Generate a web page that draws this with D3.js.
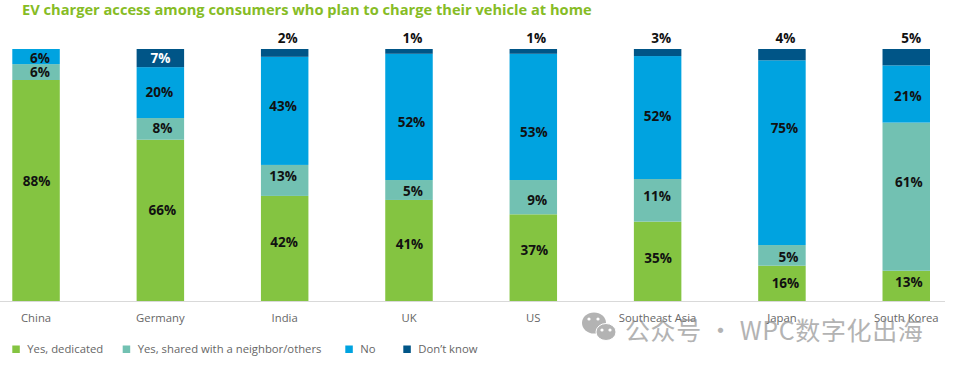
<!DOCTYPE html>
<html>
<head>
<meta charset="utf-8">
<script src="https://cdn.jsdelivr.net/npm/d3@7"></script>
<style>
  html, body { margin: 0; padding: 0; background: #fff; }
  svg { display: block; font-family: "Open Sans", sans-serif; }
</style>
</head>
<body>
<div id="chart"></div>
<script>
const categories = ["China", "Germany", "India", "UK", "US", "Southeast Asia", "Japan", "South Korea"];
const seriesNames = ["Yes, dedicated", "Yes, shared with a neighbor/others", "No", "Don\u2019t know"];

// drawn share of each bar (the printed labels do not quite match the drawn heights)
const dedicated = [87.7, 64, 41.7, 40.1, 34.4, 31.5, 14, 12];
const shared = [6.3, 8.6, 12.3, 7.9, 13.6, 16.9, 8.2, 58.8];
const no = [6, 20.2, 42.9, 50.1, 50.1, 48.8, 73.3, 22.7];
const dontKnow = [0, 7.2, 3.1, 1.9, 1.9, 2.8, 4.5, 6.5];

// printed labels
const dedicatedLabels = [88, 66, 42, 41, 37, 35, 16, 13];
const sharedLabels = [6, 8, 13, 5, 9, 11, 5, 61];
const noLabels = [6, 20, 43, 52, 53, 52, 75, 21];
const dontKnowLabels = [null, 7, 2, 1, 1, 3, 4, 5];

const colors = ["#84c441", "#72c1b2", "#00a3e0", "#005587"];

// the labels were placed by hand in the original: [dx, dy] from the segment centre
const labelNudge = [
  [[0.5, -9.5], [2, -10], [-0.5, -6.5], [0.5, -6.5], [1, -7.7], [0.5, -3.5], [3.5, 0], [2.5, -4]],
  [[4, 0], [2, -1], [-1.5, -4.5], [4, 1], [4, 3], [-0.5, -4], [6.5, 2], [2.5, -14]],
  [[4, 1.5], [-1, -0.5], [-1.5, -5], [2.5, 5], [0.5, 15], [0, -1], [2.5, -24], [1.5, 2.7]],
  [[0, 0], [0, 0], [3, -15], [3.5, -13.4], [3, -13.4], [3.5, -14.5], [3.5, -16.6], [5, -19.3]]
];

const width = 954;
const height = 366;

const svg = d3.select("#chart")
  .append("svg")
  .attr("width", width)
  .attr("height", height);

svg.append("text")
  .attr("x", 22)
  .attr("y", 15)
  .attr("fill", "#86bc25")
  .style("font-size", "14.65px")
  .style("font-weight", 700)
  .text("EV charger access among consumers who plan to charge their vehicle at home");

const x = d3.scaleBand()
  .domain(categories)
  .range([12.3, 930])
  .paddingInner(0.618)
  .paddingOuter(0);

const y = d3.scaleLinear().domain([0, 100]).range([301, 49]);

const table = categories.map((c, i) => ({
  category: c,
  [seriesNames[0]]: dedicated[i],
  [seriesNames[1]]: shared[i],
  [seriesNames[2]]: no[i],
  [seriesNames[3]]: dontKnow[i]
}));
const labels = [dedicatedLabels, sharedLabels, noLabels, dontKnowLabels];

const stack = d3.stack().keys(seriesNames)(table);

stack.forEach((s, k) => {
  const g = svg.append("g");

  g.append("g")
    .attr("fill", colors[k])
    .selectAll("rect")
    .data(s)
    .join("rect")
    .attr("x", d => x(d.data.category))
    .attr("y", d => y(d[1]))
    .attr("width", x.bandwidth())
    .attr("height", d => y(d[0]) - y(d[1]));

  g.append("g")
    .selectAll("text")
    .data(s)
    .join("text")
    .attr("x", (d, i) => x(d.data.category) + x.bandwidth() / 2 + labelNudge[k][i][0])
    .attr("y", (d, i) => (y(d[0]) + y(d[1])) / 2 + labelNudge[k][i][1])
    .attr("dy", "0.35em")
    .attr("text-anchor", "middle")
    .attr("fill", (d, i) => (k === 3 && i === 1 ? "#fff" : "#111"))
    .style("font-size", "13.5px")
    .style("font-weight", 700)
    .text((d, i) => (labels[k][i] === null ? "" : labels[k][i] + "%"));
});

// category axis, no ticks
const axis = svg.append("g")
  .attr("transform", "translate(0,301)")
  .call(d3.axisBottom(x).tickSize(0).tickPadding(13));
axis.select(".domain").remove();
axis.selectAll("text")
  .attr("fill", "#666")
  .style("font-family", "'Open Sans', sans-serif")
  .style("font-size", "11.3px");

svg.append("line")
  .attr("x1", 0)
  .attr("x2", 945)
  .attr("y1", 301.5)
  .attr("y2", 301.5)
  .attr("stroke", "#d9d9d9")
  .attr("stroke-width", 1);

// legend
const legendX = [12.3, 122.7, 345.3, 403.3];
const legend = svg.append("g")
  .selectAll("g")
  .data(seriesNames)
  .join("g")
  .attr("transform", (d, i) => `translate(${legendX[i]},345.5)`);

legend.append("rect")
  .attr("width", 7.5)
  .attr("height", 7.5)
  .attr("fill", (d, i) => colors[i]);

legend.append("text")
  .attr("x", 15)
  .attr("y", 4)
  .attr("dy", "0.35em")
  .attr("fill", "#666")
  .style("font-size", "11.3px")
  .text(d => d);

// watermark over the bottom right labels
const mark = svg.append("g").attr("fill", "#8c8c8c").attr("opacity", 0.65);
mark.append("ellipse").attr("cx", 594).attr("cy", 323).attr("rx", 12).attr("ry", 10.5);
mark.append("ellipse").attr("cx", 606).attr("cy", 332).attr("rx", 10).attr("ry", 8.5).attr("stroke", "#fff").attr("stroke-width", 1);
[[589, 319], [598, 319], [602, 330], [610, 330]].forEach(p => {
  svg.append("circle").attr("cx", p[0]).attr("cy", p[1]).attr("r", 1.6).attr("fill", "#fff");
});
mark.append("text")
  .attr("x", 625)
  .attr("y", 340)
  .style("font-family", "'Noto Sans CJK SC', sans-serif")
  .style("font-size", "25px")
  .style("letter-spacing", "0.6px")
  .text("\u516c\u4f17\u53f7 \u00b7 WPC\u6570\u5b57\u5316\u51fa\u6d77");
</script>
</body>
</html>
